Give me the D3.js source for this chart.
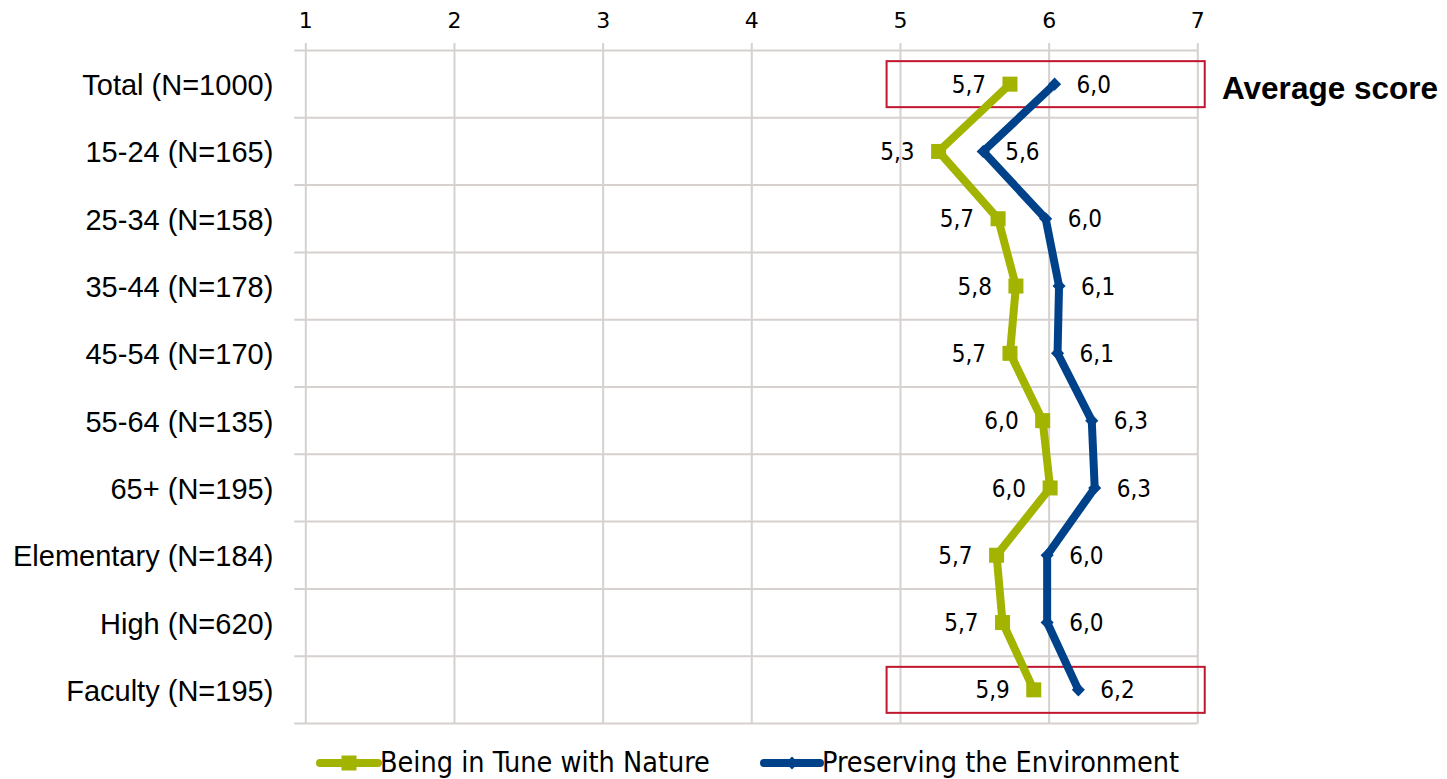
<!DOCTYPE html>
<html>
<head>
<meta charset="utf-8">
<script src="https://cdn.jsdelivr.net/npm/d3@7"></script>
<style>
  html, body { margin: 0; padding: 0; background: #fff; }
  svg { display: block; }
</style>
</head>
<body>
<svg id="chart" width="1447" height="779"></svg>
<script>
// Groups shown down the left side
const categories = [
  "Total (N=1000)", "15-24 (N=165)", "25-34 (N=158)", "35-44 (N=178)",
  "45-54 (N=170)", "55-64 (N=135)", "65+ (N=195)", "Elementary (N=184)",
  "High (N=620)", "Faculty (N=195)"
];
// Mean scores on the 1–7 scale
const natureValues = [5.74, 5.26, 5.66, 5.78, 5.74, 5.96, 6.01, 5.65, 5.69, 5.90];
const environmentValues = [6.04, 5.56, 5.98, 6.07, 6.06, 6.29, 6.31, 5.99, 5.99, 6.20];
const seriesNames = ["Being in Tune with Nature", "Preserving the Environment"];
const tickValues = [1, 2, 3, 4, 5, 6, 7];
const highlighted = ["Total (N=1000)", "Faculty (N=195)"];
const highlightRange = [4.91, 7.05];
const highlightLabel = "Average score";

const green = "#a2b300";
const blue = "#00428a";
const gridColor = "#d6d1cf";
const boxColor = "#c0172f";

const svg = d3.select("#chart");
const plotTop = 50.5, plotBottom = 723.5, plotLeft = 305.3, plotRight = 1197.3;

const x = d3.scaleLinear().domain([1, 7]).range([plotLeft, plotRight]);
const y = d3.scaleBand().domain(categories).range([plotTop, plotBottom]).padding(0);
const cy = c => y(c) + y.bandwidth() / 2;

const locale = d3.formatLocale({ decimal: ",", thousands: ".", grouping: [3], currency: ["", ""] });
const fmt = locale.format(".1f");

// Vertical gridlines + top tick labels
const xAxis = d3.axisTop(x).tickValues(tickValues).tickFormat(d3.format("d"))
  .tickSizeInner(-(plotBottom - 43)).tickSizeOuter(0).tickPadding(15);
const gx = svg.append("g").attr("transform", "translate(0,43)").call(xAxis);
gx.select(".domain").remove();
gx.selectAll(".tick line").attr("stroke", gridColor).attr("stroke-width", 2);
gx.selectAll(".tick text").attr("fill", "#000")
  .style("font-family", "'DejaVu Sans', Verdana, sans-serif").style("font-size", "22px");

// Horizontal gridlines at the band boundaries
const bounds = categories.map(c => y(c)).concat([y(categories[categories.length - 1]) + y.bandwidth()]);
svg.append("g").selectAll("line").data(bounds).join("line")
  .attr("x1", plotLeft - 11).attr("x2", plotRight)
  .attr("y1", d => d).attr("y2", d => d)
  .attr("stroke", gridColor).attr("stroke-width", 2);

// Category labels
const yAxis = d3.axisLeft(y).tickSize(0).tickPadding(32);
const gy = svg.append("g").attr("transform", `translate(${plotLeft},0)`).call(yAxis);
gy.select(".domain").remove();
gy.selectAll(".tick text").attr("fill", "#000").attr("dy", "0.38em")
  .style("font-family", "'Liberation Sans', Arial, sans-serif").style("font-size", "29px");

// Highlight boxes
svg.append("g").selectAll("rect").data(highlighted).join("rect")
  .attr("x", x(highlightRange[0])).attr("width", x(highlightRange[1]) - x(highlightRange[0]))
  .attr("y", d => cy(d) - 23).attr("height", 46)
  .attr("fill", "none").attr("stroke", boxColor).attr("stroke-width", 2);

svg.append("text").attr("x", 1222).attr("y", cy(categories[0]) + 15)
  .text(highlightLabel)
  .style("font-family", "'Liberation Sans', Arial, sans-serif")
  .style("font-size", "31.5px").style("font-weight", "bold").attr("fill", "#000");

const natureData = categories.map((c, i) => ({ c, v: natureValues[i] }));
const envData = categories.map((c, i) => ({ c, v: environmentValues[i] }));

const line = d3.line().x(d => x(d.v)).y(d => cy(d.c));

// Series lines
svg.append("path").datum(natureData).attr("d", line)
  .attr("fill", "none").attr("stroke", green).attr("stroke-width", 8)
  .attr("stroke-linejoin", "miter").attr("stroke-miterlimit", 4);
svg.append("path").datum(envData).attr("d", line)
  .attr("fill", "none").attr("stroke", blue).attr("stroke-width", 8)
  .attr("stroke-linejoin", "miter").attr("stroke-miterlimit", 4);

// Markers
const sq = 15;
svg.append("g").selectAll("rect").data(natureData).join("rect")
  .attr("x", d => x(d.v) - sq / 2).attr("y", d => cy(d.c) - sq / 2)
  .attr("width", sq).attr("height", sq).attr("fill", green);
const diamond = d3.symbol().type(d3.symbolDiamond2).size(110);
svg.append("g").selectAll("path").data(envData).join("path")
  .attr("d", diamond)
  .attr("transform", d => `translate(${x(d.v)},${cy(d.c)})`)
  .attr("fill", blue);

// Value labels
const labelFont = "'DejaVu Sans Condensed', 'DejaVu Sans', sans-serif";
svg.append("g").selectAll("text").data(natureData).join("text")
  .attr("x", d => x(d.v) - 24).attr("y", d => cy(d.c)).attr("dy", "0.36em")
  .attr("text-anchor", "end").text(d => fmt(d.v))
  .style("font-family", labelFont).style("font-stretch", "condensed")
  .style("font-size", "24px").attr("fill", "#000");
svg.append("g").selectAll("text").data(envData).join("text")
  .attr("x", d => x(d.v) + 22).attr("y", d => cy(d.c)).attr("dy", "0.36em")
  .attr("text-anchor", "start").text(d => fmt(d.v))
  .style("font-family", labelFont).style("font-stretch", "condensed")
  .style("font-size", "24px").attr("fill", "#000");

// Legend
const legendItems = [
  { name: seriesNames[0], color: green, x0: 320, x1: 378, marker: "square" },
  { name: seriesNames[1], color: blue, x0: 764, x1: 820, marker: "diamond" }
];
const ly = 763;
const lg = svg.append("g").selectAll("g").data(legendItems).join("g");
lg.append("line").attr("x1", d => d.x0).attr("x2", d => d.x1).attr("y1", ly).attr("y2", ly)
  .attr("stroke", d => d.color).attr("stroke-width", 8).attr("stroke-linecap", "round");
lg.filter(d => d.marker === "square").append("rect")
  .attr("x", d => (d.x0 + d.x1) / 2 - sq / 2).attr("y", ly - sq / 2)
  .attr("width", sq).attr("height", sq).attr("fill", d => d.color);
lg.filter(d => d.marker === "diamond").append("path")
  .attr("d", diamond).attr("transform", d => `translate(${(d.x0 + d.x1) / 2},${ly})`)
  .attr("fill", d => d.color);
lg.append("text").attr("x", d => d.x1 + 2).attr("y", 772).text(d => d.name)
  .style("font-family", "'DejaVu Sans Condensed', 'DejaVu Sans', sans-serif")
  .style("font-stretch", "condensed")
  .style("font-size", "28.5px").attr("fill", "#000");
</script>
</body>
</html>
